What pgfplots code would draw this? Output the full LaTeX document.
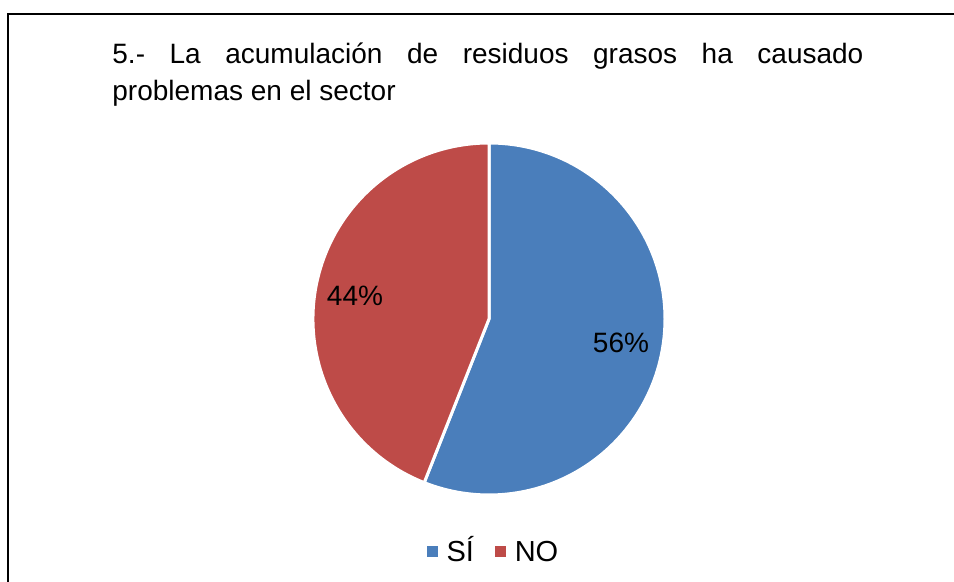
\documentclass[border=0pt]{standalone}
\usepackage{pgfplots}
\usepackage{pgfplotstable}
\pgfplotsset{compat=1.18}
\usepackage{fontspec}
\setmainfont{Liberation Sans}
\definecolor{siblue}{HTML}{4A7EBB}
\definecolor{nored}{HTML}{BE4B48}

\pgfplotstableread{
label value
SI 56
NO 44
}\piedata
\pgfplotstablegetelem{0}{value}\of\piedata \let\vSI\pgfplotsretval
\pgfplotstablegetelem{1}{value}\of\piedata \let\vNO\pgfplotsretval
\pgfmathsetmacro{\angA}{90-3.6*\vSI}
\pgfmathsetmacro{\angB}{\angA-3.6*\vNO}

\begin{document}%
\begin{tikzpicture}
\begin{axis}[
  scale only axis, width=477pt, height=291pt,
  xmin=0, xmax=954, ymin=0, ymax=582, y dir=reverse,
  hide axis, clip=false,
  legend columns=2,
  legend style={at={(axis cs:497,551)}, anchor=center, draw=none, fill=none,
    font=\fontsize{14.5}{16}\selectfont, inner sep=0pt,
    nodes={inner xsep=4.5pt, inner ysep=0pt, text height=10.5pt, text depth=0pt},
    /tikz/every even column/.append style={column sep=6pt}},
]
\coordinate (bbA) at (axis cs:0,0);
\coordinate (bbB) at (axis cs:954,582);
% frame
\draw[black, line width=1.2pt] (axis cs:8,582) -- (axis cs:8,14) -- (axis cs:954,14);
% title
\node[anchor=north west, inner sep=0pt, align=left, font=\fontsize{14}{18.5}\selectfont]
  at (axis cs:112,42) {\makebox[375.5pt][s]{5.- La acumulación de residuos grasos ha causado}\\problemas en el sector};
% pie wedges
\filldraw[fill=siblue, draw=white, line width=1.5pt, line join=round]
  (axis cs:489,319) -- ++(90:88pt) arc[start angle=90, end angle=\angA, radius=88pt] -- cycle;
\filldraw[fill=nored, draw=white, line width=1.5pt, line join=round]
  (axis cs:489,319) -- ++(\angA:88pt) arc[start angle=\angA, end angle=\angB, radius=88pt] -- cycle;
% labels
\node[font=\fontsize{14}{16}\selectfont] at (axis cs:621,343) {56\%};
\node[font=\fontsize{14}{16}\selectfont] at (axis cs:355,296) {44\%};
% legend
\addlegendimage{legend image code/.code={\fill[siblue] (0pt,-2.5pt) rectangle (5pt,2.5pt);}}
\addlegendentry{SÍ}
\addlegendimage{legend image code/.code={\fill[nored] (0pt,-2.5pt) rectangle (5pt,2.5pt);}}
\addlegendentry{NO}
\end{axis}
\pgfresetboundingbox
\path (bbA) rectangle (bbB);
\end{tikzpicture}%
\end{document}
